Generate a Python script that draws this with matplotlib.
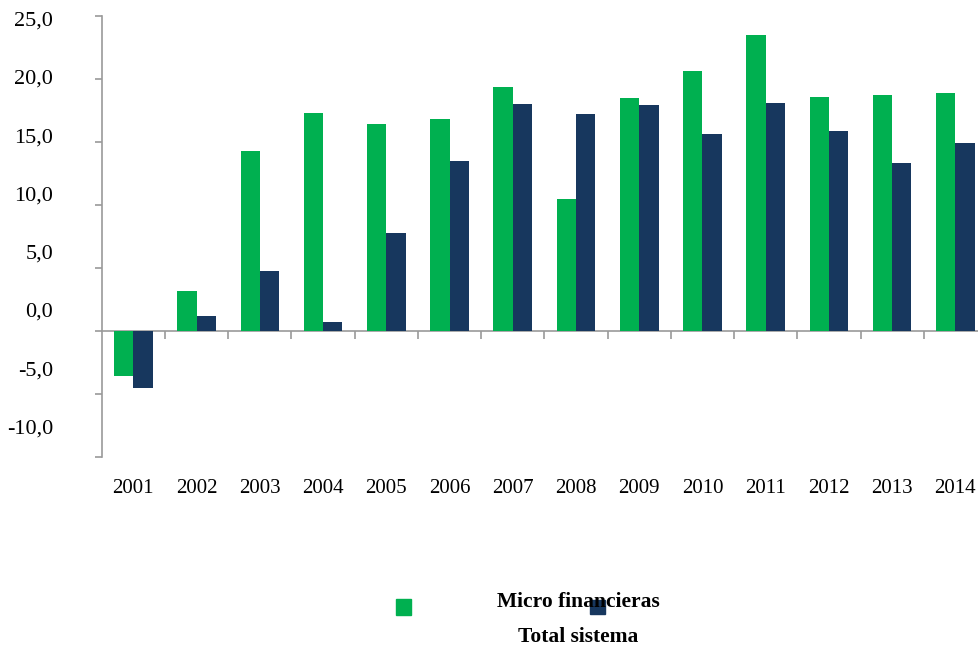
import numpy as np
import matplotlib.pyplot as plt
from matplotlib.patches import Rectangle

years = ['2001', '2002', '2003', '2004', '2005', '2006', '2007',
         '2008', '2009', '2010', '2011', '2012', '2013', '2014']
micro = [-3.6, 3.2, 14.3, 17.3, 16.4, 16.8, 19.4,
         10.5, 18.5, 20.6, 23.5, 18.6, 18.7, 18.9]
total = [-4.5, 1.2, 4.8, 0.7, 7.8, 13.5, 18.0,
         17.2, 17.9, 15.6, 18.1, 15.9, 13.3, 14.9]
yticks = [25, 20, 15, 10, 5, 0, -5, -10]

green = '#00B050'
navy = '#17375E'
grey = '#9a9a9a'

plt.rcParams['font.family'] = ['Liberation Serif', 'DejaVu Serif']

fig = plt.figure(figsize=(9.79, 6.49), dpi=100)
ax = fig.add_axes([0.1039, 0.2958, 0.9043, 0.6795])

x = np.arange(len(years))
w = 0.305
ax.bar(x - w / 2, micro, w, color=green, label='Micro financieras')
ax.bar(x + w / 2, total, w, color=navy, label='Total sistema')

ax.set_xlim(-0.5, len(years) - 0.5)
ax.set_ylim(-10, 25)

for s in ['top', 'right', 'bottom']:
    ax.spines[s].set_visible(False)
ax.spines['left'].set_color(grey)
ax.spines['left'].set_linewidth(1.2)

# year labels at the bottom, no tick marks
ax.set_xticks(x)
ax.set_xticklabels(years, fontsize=15)
ax.tick_params(axis='x', length=0, pad=16)

# y ticks on the main axis, labels on a slightly compressed secondary scale
ax.set_yticks(yticks)
ax.set_yticklabels([])
ax.tick_params(axis='y', length=5, width=1.2, color=grey, direction='out')

lab = ax.secondary_yaxis('left', functions=(lambda v: (v - 1.67) / 0.925,
                                             lambda s: 0.925 * s + 1.67))
lab.set_yticks(yticks)
lab.set_yticklabels([f'{t:.1f}'.replace('.', ',') for t in yticks], fontsize=16)
lab.tick_params(length=0, pad=35)
lab.spines['left'].set_visible(False)

# zero line with category separators
zero = ax.secondary_xaxis(10 / 35)
zero.spines['bottom'].set_color(grey)
zero.spines['bottom'].set_linewidth(1.2)
zero.set_xticks(np.arange(len(years)) + 0.5)
zero.set_xticklabels([])
zero.tick_params(length=6, width=1.2, color=grey, direction='out')

# legend
fig.patches.append(Rectangle((396 / 979, 1 - 615 / 649), 15 / 979, 16 / 649,
                             transform=fig.transFigure, color=green))
fig.patches.append(Rectangle((590 / 979, 1 - 614 / 649), 15 / 979, 14 / 649,
                             transform=fig.transFigure, color=navy))
fig.text(578 / 979, 1 - 602 / 649, 'Micro financieras', ha='center', va='center',
         fontsize=15.5, fontweight='bold')
fig.text(578 / 979, 1 - 637 / 649, 'Total sistema', ha='center', va='center',
         fontsize=15.5, fontweight='bold')

fig.savefig('out.png', dpi=100)
